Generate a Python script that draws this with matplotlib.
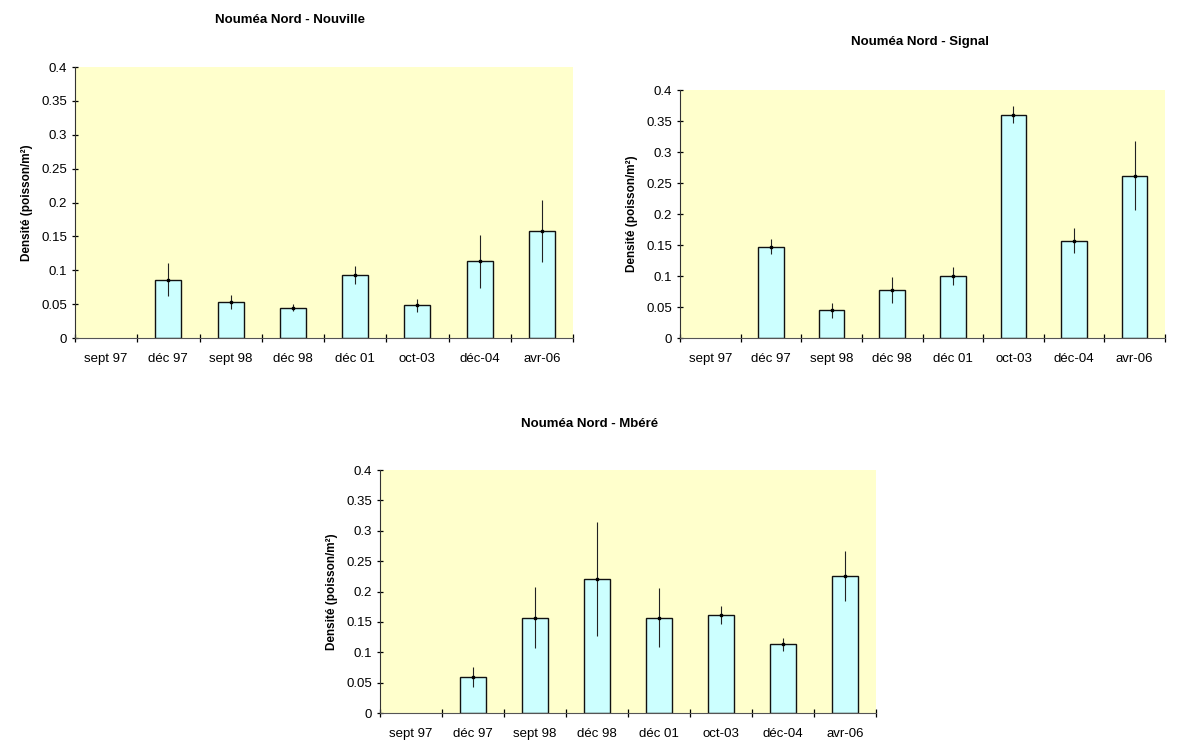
import numpy as np
import matplotlib.pyplot as plt
from matplotlib.ticker import FixedLocator, NullFormatter

plt.rcParams['font.family'] = ['Liberation Sans', 'DejaVu Sans']

dates = ["sept 97", "déc 97", "sept 98", "déc 98", "déc 01", "oct-03", "déc-04", "avr-06"]
y_ticks = [0, 0.05, 0.1, 0.15, 0.2, 0.25, 0.3, 0.35, 0.4]
y_labels = ["0", "0.05", "0.1", "0.15", "0.2", "0.25", "0.3", "0.35", "0.4"]

# Nouméa Nord - Nouville
nouville = [np.nan, 0.086, 0.053, 0.045, 0.093, 0.048, 0.113, 0.158]
nouville_err = [np.nan, 0.024, 0.010, 0.005, 0.013, 0.010, 0.039, 0.046]

# Nouméa Nord - Signal
signal = [np.nan, 0.147, 0.045, 0.077, 0.100, 0.360, 0.157, 0.262]
signal_err = [np.nan, 0.012, 0.012, 0.021, 0.014, 0.014, 0.020, 0.055]

# Nouméa Nord - Mbéré
mbere = [np.nan, 0.059, 0.157, 0.220, 0.157, 0.161, 0.113, 0.226]
mbere_err = [np.nan, 0.016, 0.050, 0.094, 0.049, 0.015, 0.011, 0.041]

W, H = 1177, 744
fig = plt.figure(figsize=(W / 100, H / 100), dpi=100)


def panel(rect, title, title_xy, vals, errs):
    l, t, r, b = rect
    ax = fig.add_axes([l / W, 1 - b / H, (r - l) / W, (b - t) / H])
    ax.set_facecolor("#FFFFCC")
    x = np.arange(len(dates))
    ax.bar(x, vals, width=0.42, color="#CCFFFF", edgecolor="#111111", linewidth=1.0, zorder=2)
    ax.errorbar(x, vals, yerr=errs, fmt="s", ms=1.5, color="black", ecolor="#222222",
                elinewidth=0.8, capsize=0, zorder=3)
    ax.set_xlim(-0.5, len(dates) - 0.5)
    ax.set_ylim(0, 0.4)
    ax.set_yticks(y_ticks)
    ax.set_yticklabels(y_labels)
    ax.set_xticks(x)
    ax.set_xticklabels(dates)
    ax.xaxis.set_minor_locator(FixedLocator(np.arange(-0.5, len(dates), 1.0)))
    ax.xaxis.set_minor_formatter(NullFormatter())
    ax.tick_params(axis="x", which="major", length=0, pad=11, labelsize=9.5)
    ax.tick_params(axis="x", which="minor", length=6, direction="inout", width=0.9)
    ax.tick_params(axis="y", length=5, direction="inout", width=0.9, labelsize=9.5, pad=3)
    for s in ["top", "right"]:
        ax.spines[s].set_visible(False)
    ax.spines["bottom"].set_color("#555555")
    ax.spines["left"].set_color("#333333")
    ax.set_ylabel("Densité (poisson/m²)", fontsize=8.5, fontweight="bold", labelpad=6)
    fig.text(title_xy[0] / W, 1 - title_xy[1] / H, title, ha="center", va="center",
             fontsize=9.5, fontweight="bold")
    return ax


panel((75, 67, 573, 338), "Nouméa Nord - Nouville", (290, 20), nouville, nouville_err)
panel((680, 90, 1165, 338), "Nouméa Nord - Signal", (920, 42), signal, signal_err)
panel((380, 470, 876, 713), "Nouméa Nord - Mbéré", (590, 424), mbere, mbere_err)

fig.savefig("out.png", dpi=100)
